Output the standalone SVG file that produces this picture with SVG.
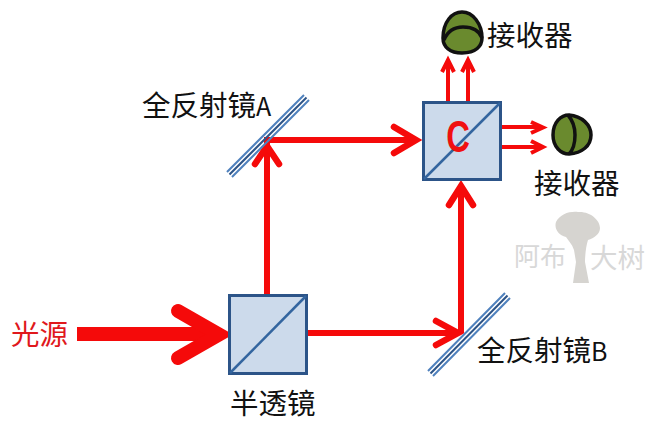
<svg xmlns="http://www.w3.org/2000/svg" width="660" height="426" viewBox="0 0 660 426">
<style>
text{font-family:"Noto Sans CJK SC","Liberation Sans",sans-serif;font-size:28.500px;fill:#111}
.letter{font-size:25px}
.split{fill:#ccdaeb;stroke:#2c5488;stroke-width:3}
.diag{stroke:#33659f;stroke-width:2.5;fill:none}
.ray{fill:none;stroke:#f50a0a;stroke-width:6}
.head{fill:none;stroke:#f50a0a;stroke-width:6.5;stroke-linecap:round;stroke-linejoin:miter}
.thin{fill:none;stroke:#f50a0a;stroke-width:4}
.m1{stroke:#4f81bd;stroke-width:2}
.m2{stroke:#2c5488;stroke-width:2}
.det{fill:#6a8a2e;stroke:#111;stroke-width:3.5}
.wm{fill:#d8d8d8}
</style>
<g id="watermark">
<path fill="#d6d4d0" d="M573 283L576 262L574 250C572 244 568 240 566 237C558 235 554 228 556 222C560 214 570 211 578 212C590 211 600 220 600 228C600 234 594 238 588 240C586 246 585 256 585 262L589 283Z"/>
<text class="wm" x="514" y="266" style="font-size:26px">阿布</text>
<text class="wm" x="590" y="268" style="font-size:27.500px">大树</text>
</g>
<g id="connectors">
<path d="M77 334H215" fill="none" stroke="#f50a0a" stroke-width="14"/>
<path d="M178 311L219 334.500L178 358" fill="none" stroke="#f50a0a" stroke-width="14" stroke-linecap="round" stroke-linejoin="miter"/>
<path class="ray" d="M267 295V143"/>
<path class="head" d="M255 164L267 146L279 164"/>
<path class="ray" d="M264 140H414"/>
<path class="head" d="M394 127L416 140L394 153"/>
<path class="ray" d="M307 333H458"/>
<path class="head" d="M436 321L458 333L436 345"/>
<path class="ray" d="M461 333V188"/>
<path class="head" d="M449 205L461 186L473 205"/>
<path class="thin" d="M448 102V60M442 72L448 60L454 72M468 102V60M462 72L468 60L474 72"/>
<path class="thin" d="M501 127H541M531 122L543 127.500L531 133M501 147H541M531 141L543 147L531 153"/>
</g>
<g id="splitter-half">
<rect class="split" x="229.500" y="295.500" width="77" height="78"/>
<path class="diag" d="M230 373L306 296"/>
</g>
<g id="splitter-c">
<rect class="split" x="423.500" y="102.500" width="77" height="77"/>
<path class="diag" d="M424 179L500 103"/>
<text transform="translate(458 152) scale(0.82 1.12)" text-anchor="middle" style="font-family:'Liberation Sans',sans-serif;font-size:40px;font-weight:bold;fill:#f01010">C</text>
</g>
<g id="mirror-a">
<path class="m1" d="M227 172L304 95M232 177L309 100"/>
<path class="m2" d="M229.500 174.500L306.500 97.500"/>
<text x="142" y="116">全反射镜<tspan class="letter">A</tspan></text>
</g>
<g id="mirror-b">
<path class="m1" d="M428 371L505 293M433 376L510 298"/>
<path class="m2" d="M430.500 373.500L507.500 295.500"/>
<text x="477" y="361">全反射镜<tspan class="letter">B</tspan></text>
</g>
<g id="detector-top">
<path class="det" d="M443 38C443 22 452 12 462 12C473 12 482 24 482 38C482 46 476 53 462 53C450 53 443 47 443 38Z"/>
<path d="M444 40C448 30 456 27 463 27C472 27 479 30 482 38" fill="none" stroke="#111" stroke-width="3.500"/>
<text x="487" y="46">接收器</text>
</g>
<g id="detector-right">
<path class="det" d="M553 135C553 122 561 115 569 115C582 116 591 125 591 135C591 146 582 153 569 154C561 154 553 147 553 135Z"/>
<path d="M568 115C574 122 575 128 575 135C575 142 574 149 569 154" fill="none" stroke="#111" stroke-width="3.500"/>
<text x="534" y="194">接收器</text>
</g>
<g id="source-label">
<text x="11" y="345" style="fill:#e0181c">光源</text>
</g>
<g id="half-label">
<text x="230" y="414">半透镜</text>
</g>
</svg>
